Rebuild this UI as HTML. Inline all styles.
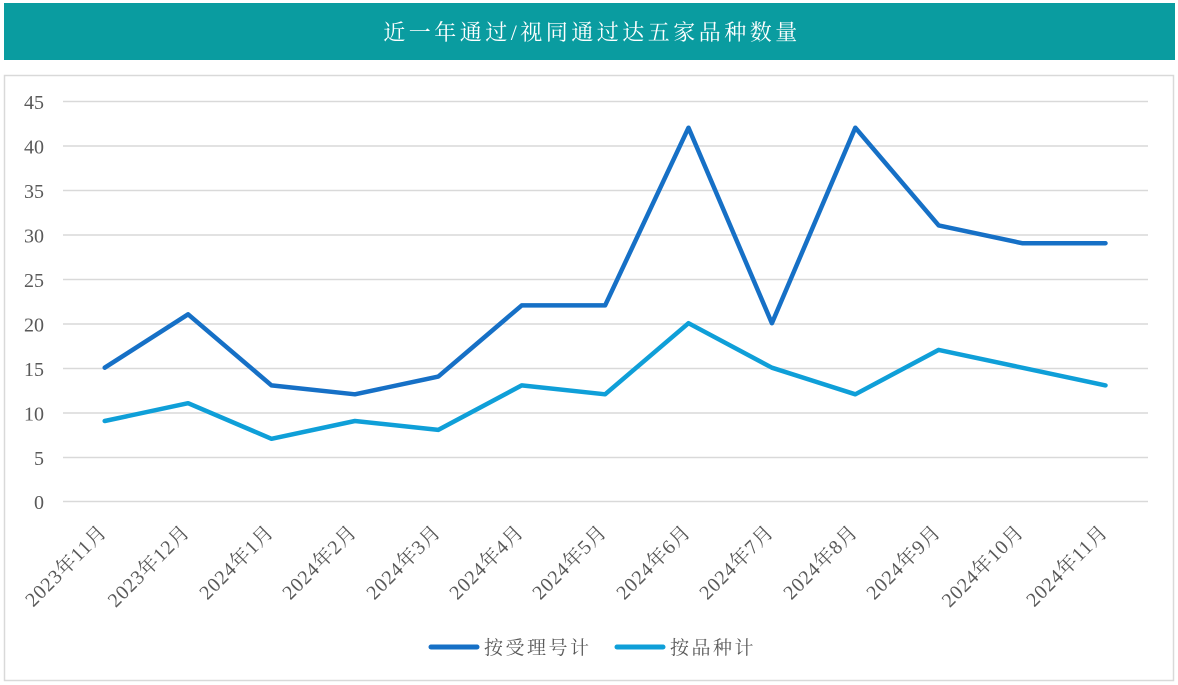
<!DOCTYPE html>
<html><head><meta charset="utf-8"><style>
html,body{margin:0;padding:0;background:#fff;}
svg{display:block;}
</style></head><body>
<svg width="1178" height="685" viewBox="0 0 1178 685" xmlns="http://www.w3.org/2000/svg">
<rect x="4" y="3" width="1171" height="57" fill="#0a9ca0"/>
<text x="592" y="40" text-anchor="middle" fill="#ffffff" font-size="22" letter-spacing="3.5" font-family="'Liberation Serif','Noto Serif CJK SC',serif">近一年通过/视同通过达五家品种数量</text>
<rect x="4.5" y="75.5" width="1169" height="605" fill="#fff" stroke="#d9d9d9" stroke-width="1.5"/>
<g stroke="#d9d9d9" stroke-width="1.5">
<line x1="63" y1="101.5" x2="1148" y2="101.5"/>
<line x1="63" y1="146" x2="1148" y2="146"/>
<line x1="63" y1="190.5" x2="1148" y2="190.5"/>
<line x1="63" y1="235" x2="1148" y2="235"/>
<line x1="63" y1="279.5" x2="1148" y2="279.5"/>
<line x1="63" y1="324" x2="1148" y2="324"/>
<line x1="63" y1="368.5" x2="1148" y2="368.5"/>
<line x1="63" y1="413" x2="1148" y2="413"/>
<line x1="63" y1="457.5" x2="1148" y2="457.5"/>
<line x1="63" y1="501.5" x2="1148" y2="501.5"/>
</g>
<g fill="#595959" font-size="20" text-anchor="end" font-family="'Liberation Serif','Noto Serif CJK SC',serif">
<text x="44" y="109">45</text>
<text x="44" y="153.5">40</text>
<text x="44" y="198">35</text>
<text x="44" y="242.5">30</text>
<text x="44" y="287">25</text>
<text x="44" y="331.5">20</text>
<text x="44" y="376">15</text>
<text x="44" y="420.5">10</text>
<text x="44" y="465">5</text>
<text x="44" y="509">0</text>
</g>
<g fill="#595959" font-size="20" letter-spacing="0.8" text-anchor="end" font-family="'Liberation Serif','Noto Serif CJK SC',serif">
<text transform="translate(108,533) rotate(-45)">2023年11月</text>
<text transform="translate(191,533) rotate(-45)">2023年12月</text>
<text transform="translate(275,533) rotate(-45)">2024年1月</text>
<text transform="translate(358,533) rotate(-45)">2024年2月</text>
<text transform="translate(442,533) rotate(-45)">2024年3月</text>
<text transform="translate(525,533) rotate(-45)">2024年4月</text>
<text transform="translate(608,533) rotate(-45)">2024年5月</text>
<text transform="translate(692,533) rotate(-45)">2024年6月</text>
<text transform="translate(775,533) rotate(-45)">2024年7月</text>
<text transform="translate(859,533) rotate(-45)">2024年8月</text>
<text transform="translate(942,533) rotate(-45)">2024年9月</text>
<text transform="translate(1025,533) rotate(-45)">2024年10月</text>
<text transform="translate(1109,533) rotate(-45)">2024年11月</text>
</g>
<polyline fill="none" stroke="#0f9fd8" stroke-width="4.5" stroke-linejoin="round" stroke-linecap="round"
points="104.7,421 188.1,403.2 271.5,438.8 354.9,421 438.3,429.9 521.7,385.4 605.1,394.3 688.5,323.2 771.9,367.7 855.3,394.3 938.7,349.9 1022.1,367.7 1105.5,385.4"/>
<polyline fill="none" stroke="#1670c6" stroke-width="4.5" stroke-linejoin="round" stroke-linecap="round"
points="104.7,367.7 188.1,314.3 271.5,385.4 354.9,394.3 438.3,376.6 521.7,305.4 605.1,305.4 688.5,127.7 771.9,323.2 855.3,127.7 938.7,225.4 1022.1,243.2 1105.5,243.2"/>
<line x1="431" y1="647" x2="477" y2="647" stroke="#1670c6" stroke-width="5" stroke-linecap="round"/>
<text x="484" y="654" fill="#595959" font-size="19" letter-spacing="2.5" font-family="'Liberation Serif','Noto Serif CJK SC',serif">按受理号计</text>
<line x1="617" y1="647" x2="663" y2="647" stroke="#0f9fd8" stroke-width="5" stroke-linecap="round"/>
<text x="670" y="654" fill="#595959" font-size="19" letter-spacing="2.5" font-family="'Liberation Serif','Noto Serif CJK SC',serif">按品种计</text>
</svg>
</body></html>
